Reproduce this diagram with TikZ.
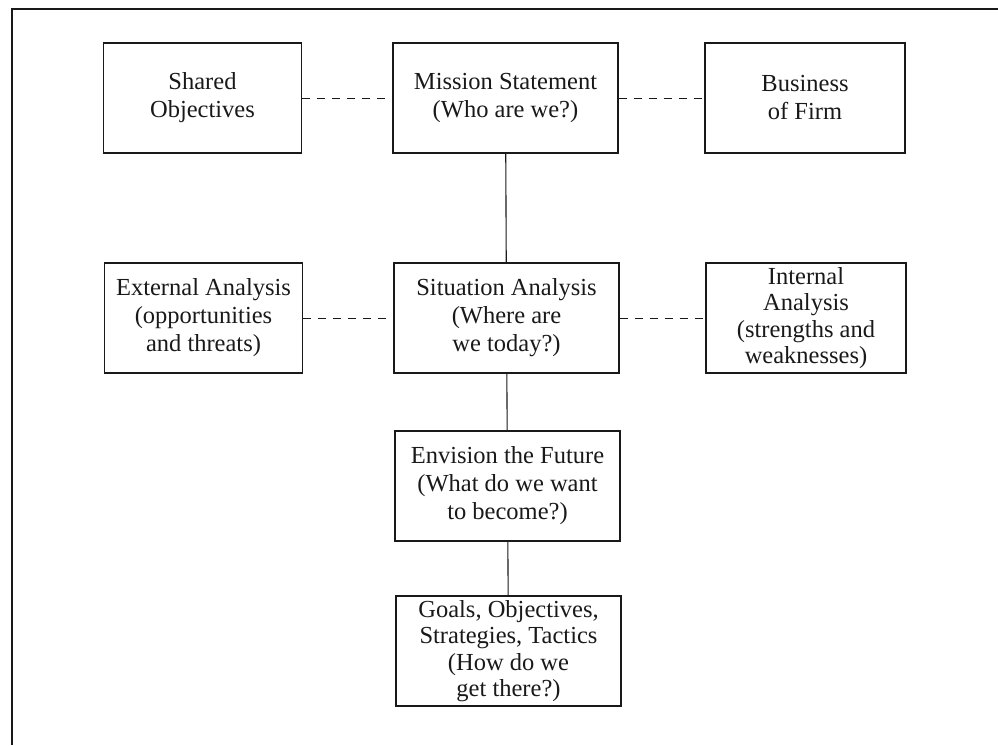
\documentclass[tikz,border=0pt]{standalone}
\usepackage{fontspec}
\setmainfont{Liberation Serif}
\begin{document}
\begin{tikzpicture}[x=1pt,y=-1pt,
  box/.style={draw=black!90, line width=1.2pt, rectangle, inner sep=0pt,
    align=center, font=\fontsize{24.5}{28}\selectfont, text=black!90},
  narrow/.style={box, minimum width=198pt, minimum height=110pt},
  wide/.style={box, minimum width=225pt, minimum height=110pt},
  fourline/.style={font=\fontsize{24.5}{26.3}\selectfont},
  solidlink/.style={draw=black!90, line width=1.1pt},
  dashlink/.style={draw=black!90, line width=1pt, dash pattern=on 8pt off 7pt}]
\useasboundingbox (0,0) rectangle (998,745);
\coordinate (fbl) at (12,745);
\coordinate (ftl) at (12,9);
\coordinate (ftr) at (998,9);
\draw[line width=1.5pt, black!90] (fbl) -- (ftl) -- (ftr);

\node[narrow] (shared) at (202.5,98) {Shared\\Objectives};
\node[wide] (mission) at (505.5,98) {Mission Statement\\(Who are we?)};
\node[narrow, minimum width=200pt] (business) at (805,98) {Business\\of Firm};

\node[narrow] (external) at (203.5,318) {External Analysis\\(opportunities\\and threats)};
\node[wide] (situation) at (506.5,318) {Situation Analysis\\(Where are\\we today?)};
\node[narrow, fourline, minimum width=200pt] (internal) at (806,318) {Internal\\Analysis\\(strengths and\\weaknesses)};

\node[wide] (envision) at (507.5,486) {Envision the Future\\(What do we want\\to become?)};
\node[wide, fourline] (goals) at (508.5,651) {Goals, Objectives,\\Strategies, Tactics\\(How do we\\get there?)};

\draw[dashlink] (shared) -- (mission);
\draw[dashlink] (mission) -- (business);
\draw[dashlink] (external) -- (situation);
\draw[dashlink] (situation) -- (internal);
\draw[solidlink] (mission) -- (situation);
\draw[solidlink] (situation) -- (envision);
\draw[solidlink] (envision) -- (goals);
\end{tikzpicture}
\end{document}
